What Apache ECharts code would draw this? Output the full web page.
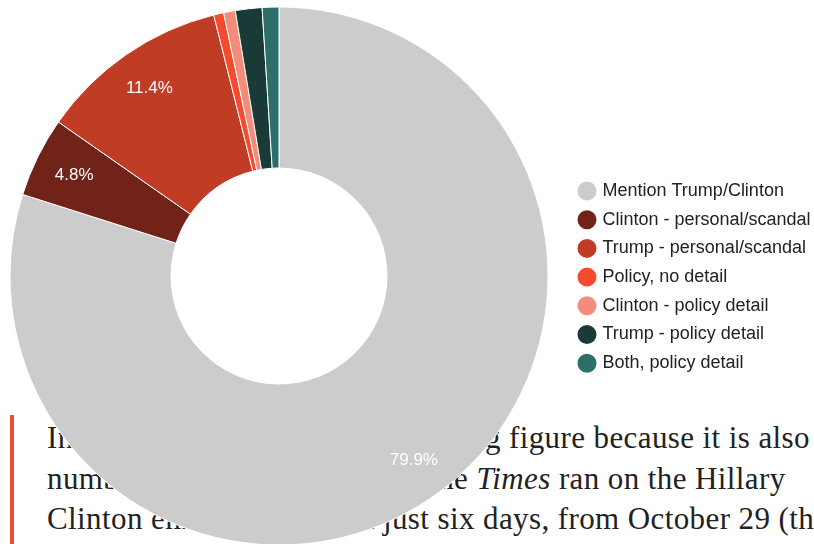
<!DOCTYPE html>
<html>
<head>
<meta charset="utf-8">
<script src="https://cdn.jsdelivr.net/npm/echarts@6/dist/echarts.min.js"></script>
<style>
  html, body { margin: 0; padding: 0; background: #fff; }
  #page { position: relative; width: 814px; height: 544px; overflow: hidden; }
  #quote { position: absolute; left: 0; top: 0; width: 814px; height: 544px; }
  #quote .rule { position: absolute; left: 10px; top: 415px; width: 4px; height: 140px; background: #ea4f33; }
  #quote .ln { position: absolute; left: 47px; white-space: nowrap;
               font-family: "Liberation Serif", serif; font-size: 31px; letter-spacing: 0.4px;
               color: #222; line-height: 1; }
  #chart { position: absolute; left: 0; top: 0; width: 814px; height: 544px; }
</style>
</head>
<body>
<div id="page">
  <div id="quote">
    <div class="rule"></div>
    <div class="ln" style="top:422px">In <span style="word-spacing:9px">other words, that is a striking</span> figure because it is also</div>
    <div class="ln" style="top:463px">number <span style="word-spacing:5px">of cover stories that</span> the <i>Times</i> ran on the Hillary</div>
    <div class="ln" style="top:503px">Clinton <span style="word-spacing:8px">email scandal in</span> just six days, from October 29 (the day after</div>
  </div>
  <div id="chart"></div>
</div>
<script>
// Share of front-page coverage by topic (percent)
const categories = [
  'Mention Trump/Clinton',
  'Clinton - personal/scandal',
  'Trump - personal/scandal',
  'Policy, no detail',
  'Clinton - policy detail',
  'Trump - policy detail',
  'Both, policy detail'
];
const shares = [79.9, 4.8, 11.4, 0.6, 0.7, 1.6, 1.0];
const colors = ['#cccccc', '#71231a', '#c03c25', '#f24b2e', '#f48c7c', '#1a3a37', '#2c6f68'];

const sliceData = categories.map((name, i) => ({ name, value: shares[i] }));

const chart = echarts.init(document.getElementById('chart'), null, { renderer: 'canvas' });

chart.setOption({
  backgroundColor: 'transparent',
  color: colors,
  animation: false,
  legend: {
    orient: 'vertical',
    left: 570.5,
    top: 174.5,
    icon: 'circle',
    itemWidth: 21,
    itemHeight: 21,
    itemGap: 5.7,
    selectedMode: false,
    data: categories,
    textStyle: {
      fontFamily: 'Liberation Sans, Arial, sans-serif',
      fontSize: 18,
      lineHeight: 18,
      color: '#222'
    }
  },
  series: [
    {
      name: 'coverage',
      type: 'pie',
      center: [279, 276],
      radius: [108, 269],
      startAngle: 90,
      clockwise: true,
      avoidLabelOverlap: false,
      label: { show: false },
      labelLine: { show: false },
      emphasis: { disabled: true },
      itemStyle: { borderColor: '#fff', borderWidth: 1 },
      data: sliceData
    },
    {
      // same slices, used only to place the percentage text further out in the ring
      name: 'labels',
      type: 'pie',
      center: [279, 276],
      radius: [182, 269],
      startAngle: 90,
      clockwise: true,
      silent: true,
      avoidLabelOverlap: false,
      itemStyle: { color: 'rgba(0,0,0,0)', borderWidth: 0 },
      emphasis: { disabled: true },
      labelLine: { show: false },
      label: {
        show: true,
        position: 'inside',
        color: '#fff',
        fontFamily: 'Liberation Sans, Arial, sans-serif',
        fontSize: 17,
        formatter: p => (p.percent >= 2 ? p.percent.toFixed(1) + '%' : '')
      },
      data: sliceData
    }
  ]
});
</script>
</body>
</html>
